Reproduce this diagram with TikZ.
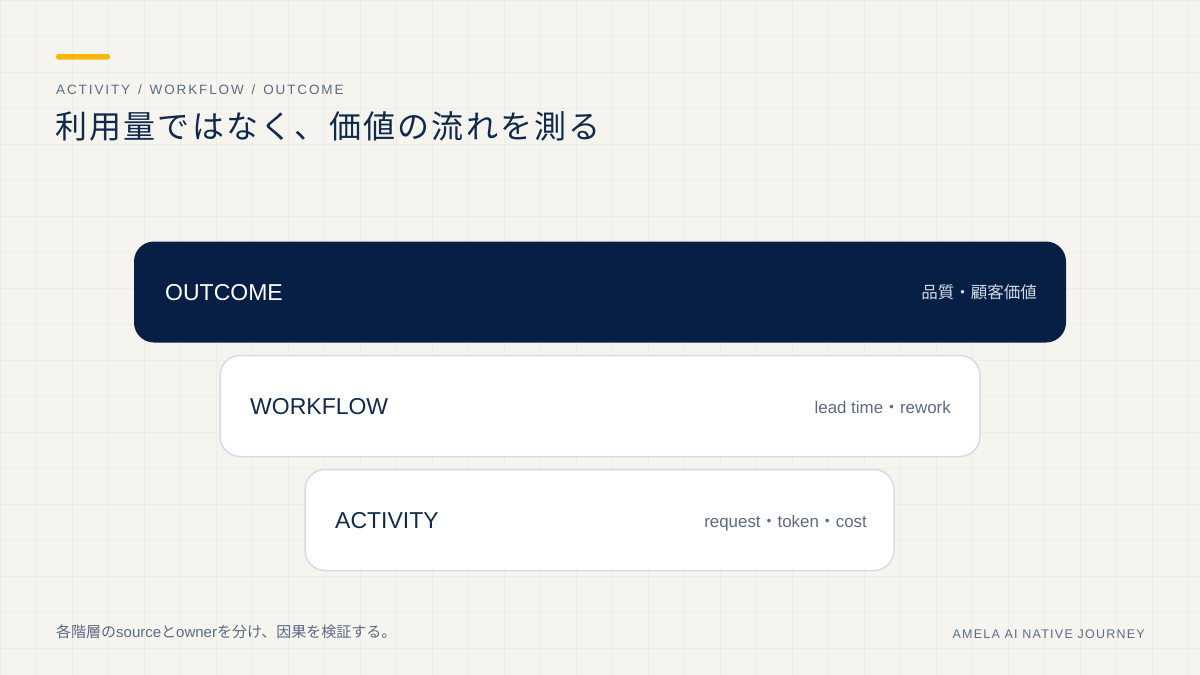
\documentclass[tikz,border=0pt]{standalone}
\usepackage{fontspec}
\setmainfont{Liberation Sans}
\newfontfamily\jp{Noto Sans CJK JP}
\newfontfamily\jpt[LetterSpace=7]{Noto Sans CJK JP}
\newfontfamily\capsp[LetterSpace=14]{Liberation Sans}
\newfontfamily\capsf[LetterSpace=10]{Liberation Sans}
\usetikzlibrary{positioning}

\definecolor{paper}{HTML}{F5F4EF}
\definecolor{gridln}{HTML}{EDECE5}
\definecolor{navy}{HTML}{071F45}
\definecolor{ink}{HTML}{102A4C}
\definecolor{slate}{HTML}{5B6B84}
\definecolor{edge}{HTML}{D6DCE6}
\definecolor{amber}{HTML}{F5B70A}
\definecolor{pale}{HTML}{D3D9E3}

\newcommand{\gap}{\hspace{2.2pt}}

\begin{document}
\begin{tikzpicture}[
		x=1pt, y=-1pt,
		card/.style={rounded corners=20pt, inner sep=0pt, minimum height=101pt},
		dark/.style={card, fill=navy},
		light/.style={card, fill=white, draw=edge, line width=1.5pt},
		head/.style={anchor=base west, inner sep=0pt, font=\fontsize{23}{26}\selectfont},
		note/.style={anchor=base east, inner sep=0pt, font=\fontsize{16.9}{20}\selectfont}
	]

		\useasboundingbox (0,0) rectangle (1200,675);
		\fill[paper] (0,0) rectangle (1200,675);
		\foreach \i in {0,36,...,1200} \draw[gridln,line width=0.8pt] (\i,0) -- (\i,675);
		\foreach \j in {0,36,...,675} \draw[gridln,line width=0.8pt] (0,\j) -- (1200,\j);

		% header
		\fill[amber,rounded corners=2.5pt] (56,54) rectangle (110,59.5);
		\node[anchor=base west,inner sep=0pt,text=slate,font=\capsp\fontsize{13.5}{16}\selectfont] (Sub) at (56,94) {ACTIVITY\gap{} /\gap{} WORKFLOW\gap{} /\gap{} OUTCOME};
		\node[anchor=base west,inner sep=0pt,text=ink,font=\jpt\fontsize{32}{38}\selectfont] (Title) at (55,138) {利用量ではなく、価値の流れを測る};

		% layers
		\node[dark,minimum width=932pt] (Out) at (600,292) {};
		\node[light,minimum width=760pt] (Wf) at (600,406) {};
		\node[light,minimum width=589pt] (Act) at (599.5,520) {};

		\node[head,text=white] (OutT) at (165,300) {OUTCOME};
		\node[note,text=pale,font=\jp\fontsize{16.5}{20}\selectfont] (OutN) at (1037,298) {品質・顧客価値};
		\node[head,text=ink] (WfT) at (250,414) {WORKFLOW};
		\node[note,text=slate] (WfN) at (951,413) {lead time{\jp ・}rework};
		\node[head,text=ink] (ActT) at (335,528) {ACTIVITY};
		\node[note,text=slate] (ActN) at (867,527) {request{\jp ・}token{\jp ・}cost};

		% footer
		\node[anchor=base west,inner sep=0pt,text=slate,font=\fontsize{15}{18}\selectfont] (Foot) at (56,637) {{\jp 各階層の}source{\jp と}owner{\jp を分け、因果を検証する。}};
		\node[anchor=base east,inner sep=0pt,text=slate,font=\capsf\fontsize{12.5}{15}\selectfont] (Brand) at (1145,638) {AMELA AI NATIVE JOURNEY};
	\end{tikzpicture}
\end{document}
